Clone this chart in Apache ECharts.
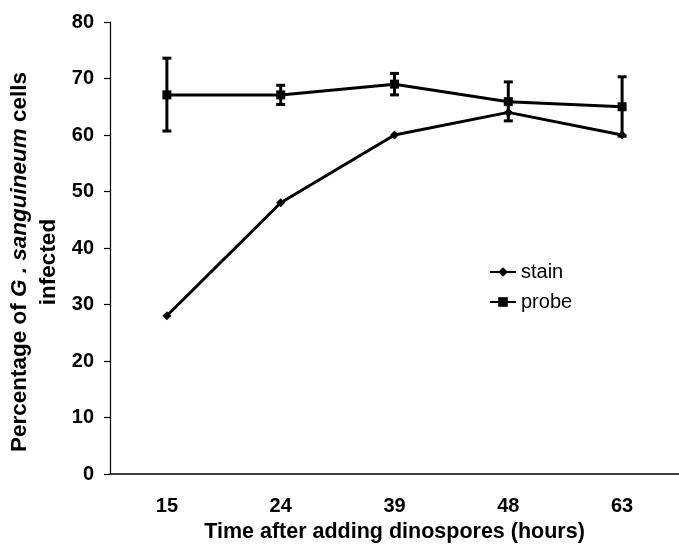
<!DOCTYPE html>
<html>
<head>
<meta charset="utf-8">
<script src="https://cdn.jsdelivr.net/npm/echarts@6/dist/echarts.min.js"></script>
<style>
  html, body { margin: 0; padding: 0; background: #fff; }
  #main { width: 679px; height: 548px; }
</style>
</head>
<body>
<div id="main"></div>
<script>
// hours after adding dinospores
const categories = ['15', '24', '39', '48', '63'];
// percentage of cells infected
const stain = [28, 48, 60, 64, 60];
const probe = [67.1, 67.1, 69, 65.9, 65];
// error bar ends for probe
const probeLow = [60.7, 65.4, 67.1, 62.5, 59.8];
const probeHigh = [73.6, 68.8, 70.9, 69.4, 70.3];

const font = 'Liberation Sans, Arial, sans-serif';
const chart = echarts.init(document.getElementById('main'));

// error bar data: [category index, low, high]
const errData = categories.map((c, i) => [i, probeLow[i], probeHigh[i]]);

const option = {
  backgroundColor: '#fff',
  animation: false,
  grid: { left: 110, top: 22, bottom: 74, width: 576, containLabel: false },
  legend: {
    orient: 'vertical',
    left: 484,
    top: 257,
    itemWidth: 26,
    itemHeight: 12,
    itemGap: 10,
    textStyle: { fontFamily: font, fontSize: 20, color: '#000' },
    data: ['stain', 'probe']
  },
  xAxis: {
    type: 'category',
    data: categories,
    boundaryGap: true,
    axisLine: { lineStyle: { color: '#000', width: 1.5 } },
    axisTick: { show: false },
    axisLabel: { fontFamily: font, fontSize: 20, fontWeight: 'bold', color: '#000', margin: 22 },
    name: 'Time after adding dinospores (hours)',
    nameLocation: 'middle',
    nameGap: 47,
    nameTextStyle: { fontFamily: font, fontSize: 21.5, fontWeight: 'bold', color: '#000' }
  },
  yAxis: {
    type: 'value',
    min: 0,
    max: 80,
    interval: 10,
    axisLine: { show: true, lineStyle: { color: '#000', width: 1.2 } },
    axisTick: { show: true, inside: false, length: 6, lineStyle: { color: '#000', width: 1.2 } },
    axisLabel: { fontFamily: font, fontSize: 20, fontWeight: 'bold', color: '#000', margin: 16 },
    splitLine: { show: false }
  },
  graphic: [{
    type: 'text',
    x: 34,
    y: 262,
    rotation: Math.PI / 2,
    style: {
      text: '{n|Percentage of }{i|G .}{n| }{i|sanguineum}{n| cells}\n{n|infected}',
      align: 'center',
      verticalAlign: 'middle',
      fill: '#000',
      rich: {
        n: { fontFamily: font, fontSize: 22.5, fontWeight: 'bold', lineHeight: 29, fill: '#000' },
        i: { fontFamily: font, fontSize: 22.5, fontWeight: 'bold', fontStyle: 'italic', lineHeight: 29, fill: '#000' }
      }
    }
  }],
  series: [
    {
      name: 'stain',
      type: 'line',
      data: stain,
      symbol: 'diamond',
      symbolSize: 9,
      itemStyle: { color: '#000' },
      lineStyle: { color: '#000', width: 3 }
    },
    {
      name: 'probe',
      type: 'line',
      data: probe,
      symbol: 'rect',
      symbolSize: 9,
      itemStyle: { color: '#000' },
      lineStyle: { color: '#000', width: 3 }
    },
    {
      name: 'probe-err',
      type: 'custom',
      data: errData,
      z: 3,
      renderItem: function (params, api) {
        const lo = api.coord([api.value(0), api.value(1)]);
        const hi = api.coord([api.value(0), api.value(2)]);
        const cap = 4.5;
        const st = { stroke: '#000', lineWidth: 3 };
        return {
          type: 'group',
          children: [
            { type: 'line', shape: { x1: lo[0], y1: lo[1], x2: hi[0], y2: hi[1] }, style: st },
            { type: 'line', shape: { x1: lo[0] - cap, y1: lo[1], x2: lo[0] + cap, y2: lo[1] }, style: st },
            { type: 'line', shape: { x1: hi[0] - cap, y1: hi[1], x2: hi[0] + cap, y2: hi[1] }, style: st }
          ]
        };
      }
    }
  ]
};

chart.setOption(option);
</script>
</body>
</html>
